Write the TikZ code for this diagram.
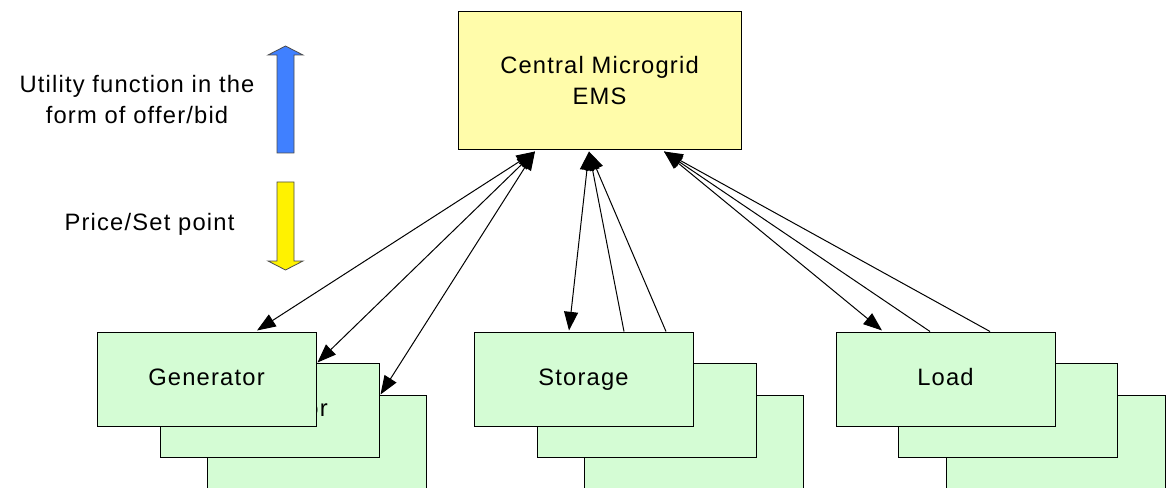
\documentclass[tikz,border=0pt]{standalone}
\usepackage{fontspec}
\setmainfont{Liberation Sans}[LetterSpace=5]
\usetikzlibrary{calc,arrows.meta}
\definecolor{emsfill}{RGB}{255,252,170}
\definecolor{boxfill}{RGB}{212,252,212}
\definecolor{upblue}{RGB}{64,128,255}
\begin{document}
\begin{tikzpicture}[x=0.75pt,y=-0.75pt,
  txt/.style={font=\fontsize{17.8}{23.25}\selectfont, align=center, inner sep=0pt},
  ems/.style={txt, draw=black, line width=0.75pt, fill=emsfill, minimum width=212.25pt, minimum height=103.5pt},
  unit/.style={font=\fontsize{17.8}{23.25}\selectfont, inner sep=0pt, text height=13pt, text depth=4pt, draw=black, line width=0.75pt, fill=boxfill, minimum width=164.25pt, minimum height=70.5pt},
  conn/.style={line width=0.75pt, {Triangle[length=14pt,width=10.5pt]}-{Triangle[length=14pt,width=10.5pt]}},
  upconn/.style={line width=0.75pt, -{Triangle[length=14pt,width=10.5pt]}},
  blockarrow/.style={draw=black!70, line width=0.6pt}
]
\useasboundingbox (0,0) rectangle (1166,488);

% central EMS
\node[ems] (ems) at (599.5,81) {Central Microgrid\\EMS};

% generator stack
\node[unit] (gen3) at (316.5,442) {Generator};
\node[unit] (gen2) at (269.5,410) {Generator};
\node[unit] (gen1) at (206.5,379) {Generator};

% storage stack
\node[unit] (st3) at (693.5,442) {};
\node[unit] (st2) at (646.5,410) {};
\node[unit] (st1) at (583.5,379) {Storage};

% load stack
\node[unit] (ld3) at (1055.5,442) {};
\node[unit] (ld2) at (1008,410) {};
\node[unit] (ld1) at (945.5,379) {Load};

% legend texts
\node[txt] (util) at (137,99.5) {Utility function in the\\form of offer/bid};
\node[txt] (price) at (149.5,224) {Price/Set point};

% legend block arrows
\filldraw[blockarrow, fill=upblue] (277,153) -- (277,55) -- (268,55) -- (285.5,46) -- (303,55) -- (294,55) -- (294,153) -- cycle;
\filldraw[blockarrow, fill=yellow] (277,182) -- (277,261) -- (268,261) -- (285.5,270) -- (303,261) -- (294,261) -- (294,182) -- cycle;

% connectors: generators
\coordinate (gtop) at ($(ems.south)+(-64.5,1)$);
\draw[conn] (gtop) -- ($(gen1.north)+(50.5,-1)$);
\draw[conn] (gtop) -- ($(gen1.east |- gen2.north)+(1,0)$);
\draw[conn] (gtop) -- ($(gen2.east |- gen3.north)+(1,0)$);

% connectors: storage
\coordinate (stop) at ($(ems.south)+(-10.5,1)$);
\draw[conn] (stop) -- ($(st1.north)+(-14.5,-1)$);
\draw[upconn] ($(st1.north)+(40.5,0)$) -- (stop);
\draw[upconn] ($(st1.north)+(82.5,0)$) -- (stop);

% connectors: loads
\coordinate (ltop) at ($(ems.south)+(64.5,1)$);
\draw[conn] (ltop) -- ($(ld1.north)+(-63.5,-1)$);
\draw[upconn] ($(ld1.north)+(-15.5,0)$) -- (ltop);
\draw[upconn] ($(ld1.north)+(44.5,0)$) -- (ltop);
\end{tikzpicture}
\end{document}
